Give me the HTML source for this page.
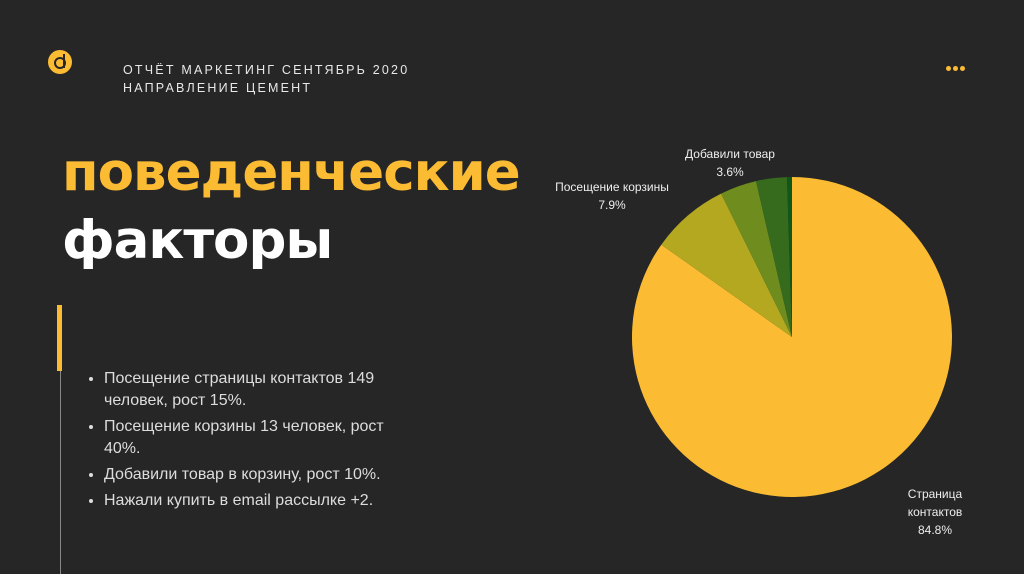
<!DOCTYPE html>
<html><head><meta charset="utf-8"><style>
body{margin:0;width:1024px;height:574px;background:#262626;overflow:hidden;position:relative;font-family:"Liberation Sans","DejaVu Sans",sans-serif;}
.hdr{position:absolute;left:123px;top:61px;color:#e8e8e8;font-size:12.5px;letter-spacing:2.2px;line-height:18px;}
.logo{position:absolute;left:48px;top:50px;width:24px;height:24px;border-radius:50%;background:#fbbc33;}
.t1{position:absolute;left:62px;top:142px;font-size:53px;font-weight:bold;color:#fbbc33;font-family:"DejaVu Sans",sans-serif;letter-spacing:-1px;}
.t2{position:absolute;left:62px;top:210px;font-size:53px;font-weight:bold;color:#fff;font-family:"DejaVu Sans",sans-serif;letter-spacing:-1px;}
.vl{position:absolute;left:57px;top:305px;width:5px;height:66px;background:#fbbc33;}
.vg{position:absolute;left:60px;top:371px;width:1px;height:203px;background:#888;}
ul{position:absolute;left:86px;top:368px;margin:0;padding-left:18px;width:305px;color:#ddd;font-size:16px;line-height:22px;}
li{margin-bottom:4px;}
.lab{position:absolute;color:#eee;font-size:12px;text-align:center;line-height:18px;}
.dots{position:absolute;left:946px;top:58px;}
.dots i{display:inline-block;width:5px;height:5px;border-radius:50%;background:#fbbc33;margin-right:2px;}
</style></head><body>
<div class="logo"><svg width="24" height="24"><circle cx="12" cy="13" r="5" fill="none" stroke="#262626" stroke-width="2"/><line x1="16" y1="4" x2="16" y2="18" stroke="#262626" stroke-width="2"/></svg></div>
<div class="hdr">ОТЧЁТ МАРКЕТИНГ СЕНТЯБРЬ 2020<br>НАПРАВЛЕНИЕ ЦЕМЕНТ</div>
<div class="dots"><i></i><i></i><i></i></div>
<div class="t1">поведенческие</div>
<div class="t2">факторы</div>
<div class="vl"></div><div class="vg"></div>
<ul><li>Посещение страницы контактов 149 человек, рост 15%.</li><li>Посещение корзины 13 человек, рост 40%.</li><li>Добавили товар в корзину, рост 10%.</li><li>Нажали купить в email рассылке +2.</li></ul>
<svg style="position:absolute;left:0;top:0" width="1024" height="574">
<path d="M792 337 L792 177 A160 160 0 1 1 661.3 244.7 Z" fill="#fbbc33"/>
<path d="M792 337 L661.3 244.7 A160 160 0 0 1 721.1 193.6 Z" fill="#b4a821"/>
<path d="M792 337 L721.1 193.6 A160 160 0 0 1 756 181.1 Z" fill="#6f8c1f"/>
<path d="M792 337 L756 181.1 A160 160 0 0 1 787 177.1 Z" fill="#366b1e"/>
<path d="M792 337 L787 177.1 A160 160 0 0 1 792 177 Z" fill="#0e581b"/>
</svg>
<div class="lab" style="left:660px;top:145px;width:140px">Добавили товар<br>3.6%</div>
<div class="lab" style="left:537px;top:178px;width:150px">Посещение корзины<br>7.9%</div>
<div class="lab" style="left:890px;top:485px;width:90px">Страница<br>контактов<br>84.8%</div>
</body></html>
